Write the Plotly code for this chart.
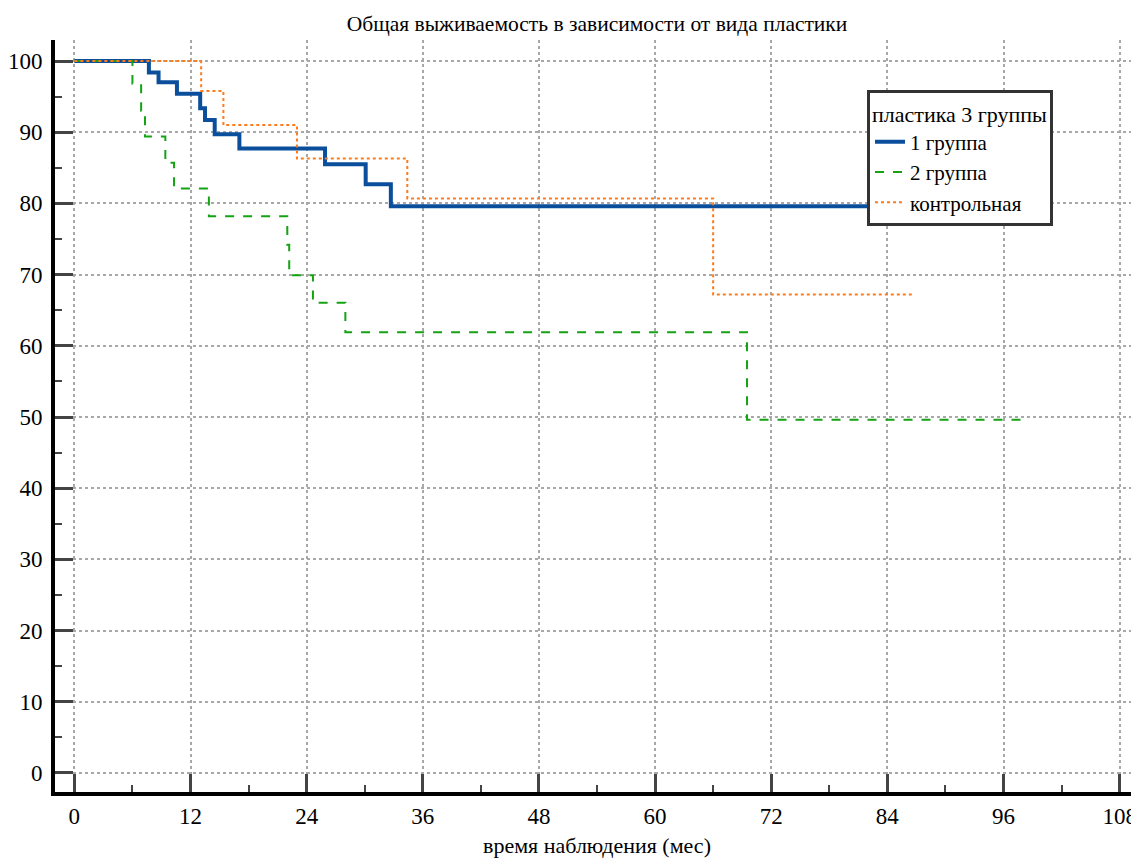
import plotly.graph_objects as go

# Group 1 (blue, solid)
g1_time = [0, 7.7, 8.7, 10.6, 13.0, 13.5, 14.5, 17.05, 25.9, 30.1, 32.7, 88.0]
g1_surv = [100, 98.4, 97.0, 95.4, 93.35, 91.7, 89.7, 87.7, 85.5, 82.7, 79.6, 79.6]

# Group 2 (green, dashed)
g2_time = [0, 6.0, 6.9, 7.3, 9.4, 10.3, 13.9, 22.0, 22.2, 24.65, 28.0, 69.5, 97.8]
g2_surv = [100, 96.8, 93.0, 89.4, 85.7, 82.1, 78.2, 74.2, 69.9, 66.05, 61.9, 49.6, 49.6]

# Control (orange, dotted)
g3_time = [0, 13.1, 15.4, 23.0, 34.4, 66.0, 86.7]
g3_surv = [100, 95.8, 91.0, 86.3, 80.7, 67.2, 67.2]

names = ["1 группа", "2 группа", "контрольная"]
title_text = "Общая выживаемость в зависимости от вида пластики"
x_title = "время наблюдения (мес)"
legend_title = "пластика 3 группы"

FONT = "Liberation Serif, Times New Roman, serif"

fig = go.Figure()
fig.add_trace(go.Scatter(x=g1_time, y=g1_surv, mode="lines", name=names[0],
                         line=dict(color="#0b4f9c", width=4, shape="hv")))
fig.add_trace(go.Scatter(x=g2_time, y=g2_surv, mode="lines", name=names[1],
                         line=dict(color="#13a313", width=2, dash="dash", shape="hv")))
fig.add_trace(go.Scatter(x=g3_time, y=g3_surv, mode="lines", name=names[2],
                         line=dict(color="#ff7a1a", width=2, dash="dot", shape="hv")))

# page has 8px body margin: figure occupies x 8..1139, y 8..861
fig.update_layout(
    width=1131, height=853,
    margin=dict(l=47, r=0, t=32, b=69),
    paper_bgcolor="white", plot_bgcolor="white",
    font=dict(family=FONT, color="black", size=21),
    title=dict(text=title_text, x=0.5, xref="paper", xanchor="center",
               y=1 - 15 / 853, yanchor="middle", font=dict(size=21.5, family=FONT)),
    showlegend=True,
    legend=dict(
        title=dict(text=legend_title, font=dict(size=22, family=FONT)),
        x=(867 - 55) / 1084, y=(792 - 90) / 752, xanchor="left", yanchor="top",
        bgcolor="white", bordercolor="#333333", borderwidth=3,
        font=dict(size=21, family=FONT), itemwidth=30, tracegroupgap=0,
    ),
)

fig.update_xaxes(
    range=[-2, 110], tick0=0, dtick=12,
    showline=True, linecolor="black", linewidth=4,
    ticks="inside", ticklen=18, tickwidth=3, tickcolor="#444444",
    minor=dict(ticks="inside", ticklen=7, tickwidth=2, tickcolor="#444444", dtick=6, tick0=0, showgrid=False),
    showgrid=True, gridcolor="#a8a8a8", griddash="dot", gridwidth=1.5,
    zeroline=False,
    tickfont=dict(size=23, family=FONT),
    title=dict(text=x_title, font=dict(size=22, family=FONT), standoff=11),
)
fig.update_yaxes(
    range=[-2.67, 102.95], tick0=0, dtick=10,
    showline=True, linecolor="black", linewidth=4,
    ticks="inside", ticklen=18, tickwidth=3, tickcolor="#444444",
    minor=dict(ticks="inside", ticklen=7, tickwidth=2, tickcolor="#444444", dtick=5, tick0=0, showgrid=False),
    showgrid=True, gridcolor="#a8a8a8", griddash="dot", gridwidth=1.5,
    zeroline=False,
    tickfont=dict(size=23, family=FONT),
    ticklabelstandoff=4,
)

fig.write_html("out.html")
